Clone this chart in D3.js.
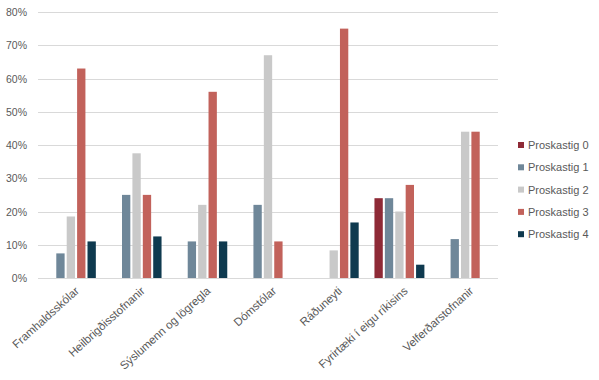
<!DOCTYPE html>
<html lang="is">
<head>
<meta charset="UTF-8" />
<title>Proskastig</title>
<style>
  body { margin: 0; background: #fff; }
  svg text { font-family: "Liberation Sans", "DejaVu Sans", sans-serif; fill: #595959; }
</style>
</head>
<body>
<svg width="599" height="380"></svg>
<script src="https://cdn.jsdelivr.net/npm/d3@7"></script>
<script>
// categories and series (values are shares, 0..1)
var categories = ["Framhaldsskólar", "Heilbrigðisstofnanir", "Sýslumenn og lögregla", "Dómstólar",
  "Ráðuneyti", "Fyrirtæki í eigu ríkisins", "Velferðarstofnanir"];
var seriesNames = ["Proskastig 0", "Proskastig 1", "Proskastig 2", "Proskastig 3", "Proskastig 4"];
var stig0 = [0, 0, 0, 0, 0, 0.24, 0];
var stig1 = [0.074, 0.25, 0.11, 0.22, 0, 0.24, 0.117];
var stig2 = [0.185, 0.375, 0.22, 0.67, 0.083, 0.20, 0.44];
var stig3 = [0.63, 0.25, 0.56, 0.11, 0.75, 0.28, 0.44];
var stig4 = [0.11, 0.125, 0.11, 0, 0.167, 0.04, 0];
var yTicks = [0, 0.1, 0.2, 0.3, 0.4, 0.5, 0.6, 0.7, 0.8];

var colors = ["#8e2a36", "#6f8799", "#c9c9c9", "#c2625b", "#0f3a4f"];
var allSeries = [stig0, stig1, stig2, stig3, stig4];

var svg = d3.select("svg");
var plotLeft = 38, plotRight = 498, plotTop = 12, plotBottom = 278;

var x = d3.scaleBand().domain(categories).range([plotLeft, plotRight]).paddingInner(0).paddingOuter(0);
var xs = d3.scaleBand().domain(seriesNames).range([x.bandwidth() * 0.12, x.bandwidth() * 0.88]).paddingInner(0.2);
var y = d3.scaleLinear().domain([0, 0.8]).range([plotBottom, plotTop]);

// gridlines
svg.append("g")
  .selectAll("line")
  .data(yTicks.slice(1))
  .enter().append("line")
  .attr("x1", plotLeft).attr("x2", plotRight)
  .attr("y1", function(d) { return Math.round(y(d)) + 0.5; })
  .attr("y2", function(d) { return Math.round(y(d)) + 0.5; })
  .attr("stroke", "#d9d9d9").attr("stroke-width", 1);

// y labels
svg.append("g")
  .selectAll("text")
  .data(yTicks)
  .enter().append("text")
  .attr("x", 27)
  .attr("y", function(d) { return y(d) + 4; })
  .attr("text-anchor", "end")
  .style("font-size", "10.5px")
  .text(d3.format(".0%"));

// bars
var groups = svg.append("g")
  .selectAll("g")
  .data(categories)
  .enter().append("g")
  .attr("transform", function(d) { return "translate(" + x(d) + ",0)"; });

groups.selectAll("rect")
  .data(function(d, i) {
    return allSeries.map(function(s, k) { return { name: seriesNames[k], value: s[i], k: k }; });
  })
  .enter().append("rect")
  .attr("x", function(d) { return xs(d.name); })
  .attr("width", xs.bandwidth())
  .attr("y", function(d) { return y(d.value); })
  .attr("height", function(d) { return plotBottom - y(d.value); })
  .attr("fill", function(d) { return colors[d.k]; });

// axis line
svg.append("line")
  .attr("x1", plotLeft).attr("x2", plotRight)
  .attr("y1", plotBottom + 0.5).attr("y2", plotBottom + 0.5)
  .attr("stroke", "#d9d9d9");

// x labels, rotated
svg.append("g")
  .selectAll("text")
  .data(categories)
  .enter().append("text")
  .attr("text-anchor", "end")
  .attr("transform", function(d) {
    return "translate(" + (x(d) + x.bandwidth() / 2 + 9) + "," + (plotBottom + 14) + ") rotate(-42)";
  })
  .style("font-size", "11.5px")
  .text(function(d) { return d; });

// legend
var legend = svg.append("g")
  .selectAll("g")
  .data(seriesNames)
  .enter().append("g")
  .attr("transform", function(d, i) { return "translate(518," + (145 + i * 22.3) + ")"; });

legend.append("rect")
  .attr("x", 0).attr("y", -3).attr("width", 6).attr("height", 6)
  .attr("fill", function(d, i) { return colors[i]; });

legend.append("text")
  .attr("x", 10).attr("y", 4)
  .style("font-size", "11px")
  .text(function(d) { return d; });
</script>
</body>
</html>
